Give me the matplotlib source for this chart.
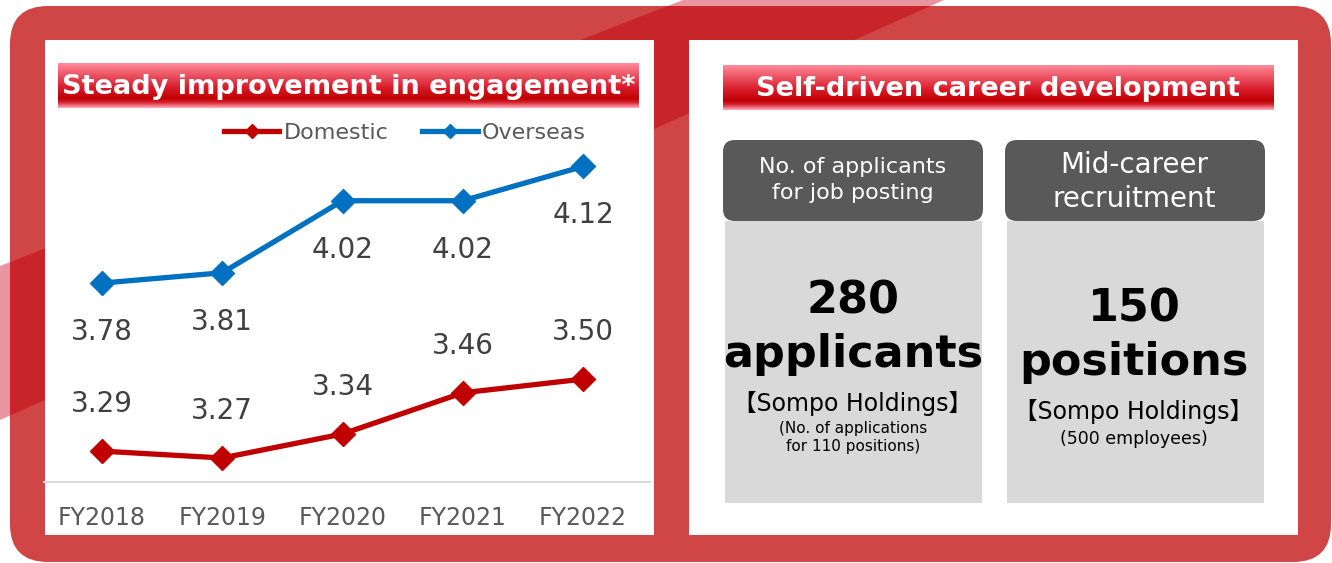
import numpy as np
import matplotlib
matplotlib.use('Agg')
import matplotlib.pyplot as plt
from matplotlib.patches import FancyBboxPatch, Rectangle, Polygon
from matplotlib.colors import LinearSegmentedColormap

# data
years = ['FY2018', 'FY2019', 'FY2020', 'FY2021', 'FY2022']
domestic = [3.29, 3.27, 3.34, 3.46, 3.50]
overseas = [3.78, 3.81, 4.02, 4.02, 4.12]

left_title = 'Steady improvement in engagement*'
right_title = 'Self-driven career development'
box_heads = ['No. of applicants\nfor job posting', 'Mid-career\nrecruitment']
box_nums = ['280', '150']
box_units = ['applicants', 'positions']
box_org = ['【Sompo Holdings】', '【Sompo Holdings】']
box_notes = ['(No. of applications\nfor 110 positions)', '(500 employees)']

W, H = 1332, 563
RED = '#C00000'
BLUE = '#0070C0'
FRAME = '#D04545'
BAND_DARK = '#C8252B'
BAND_PINK = '#E9959F'

fig = plt.figure(figsize=(W / 100, H / 100), dpi=100)
bg = fig.add_axes([0, 0, 1, 1])
bg.set_xlim(0, W)
bg.set_ylim(H, 0)
bg.axis('off')

# diagonal band behind / over the frame
band = [(0, 266), (683, 0), (944, 0), (0, 420)]
bg.add_patch(Polygon(band, closed=True, color=BAND_PINK, lw=0, zorder=1))
frame = FancyBboxPatch((10, 6), 1321, 556, boxstyle='round,pad=0,rounding_size=38',
                       fc=FRAME, ec='none', zorder=2)
bg.add_patch(frame)
dark = Polygon(band, closed=True, color=BAND_DARK, lw=0, zorder=3)
bg.add_patch(dark)
dark.set_clip_path(frame)

# white panels
bg.add_patch(Rectangle((45, 40), 609, 495, fc='white', ec='none', zorder=4))
bg.add_patch(Rectangle((689, 40), 609, 495, fc='white', ec='none', zorder=4))

# title bars with vertical gradient
grad = LinearSegmentedColormap.from_list('tb', [
    (0.0, '#FF8C9C'), (0.2, '#F0606F'), (0.55, '#D81B2B'),
    (0.8, '#C00000'), (0.88, '#D42030'), (1.0, '#FFA8B4')])
g = np.linspace(0, 1, 64).reshape(-1, 1)
for (x0, x1, y0, y1, txt) in [(58, 639, 63, 108, left_title),
                              (723, 1274, 65, 110, right_title)]:
    bg.imshow(g, cmap=grad, extent=(x0, x1, y1, y0), aspect='auto',
              origin='upper', zorder=5, interpolation='bilinear')
    bg.text((x0 + x1) / 2, (y0 + y1) / 2 + 1, txt, color='white', fontsize=19.5,
            fontweight='bold', ha='center', va='center', zorder=6)

# right panel boxes
centers = [853, 1134]
lefts = [723, 1005]
for i in range(2):
    x0 = lefts[i]
    bg.add_patch(Rectangle((x0 + 2, 221), 257, 282, fc='#D9D9D9', ec='none', zorder=5))
    bg.add_patch(FancyBboxPatch((x0, 140), 260, 81, boxstyle='round,pad=0,rounding_size=12',
                                fc='#595959', ec='none', zorder=6))
    cx = centers[i]
    if i == 0:
        bg.text(cx, 180, box_heads[i], color='white', fontsize=16, ha='center',
                va='center', linespacing=1.35, zorder=7)
        bg.text(cx, 301, box_nums[i], fontsize=32, fontweight='bold', ha='center', va='center', zorder=7)
        bg.text(cx, 355, box_units[i], fontsize=32, fontweight='bold', ha='center', va='center', zorder=7)
        bg.text(cx, 404, box_org[i], fontsize=17, ha='center', va='center', zorder=7,
                family=['DejaVu Sans', 'Noto Sans CJK JP'])
        bg.text(cx, 438, box_notes[i], fontsize=11, ha='center', va='center',
                linespacing=1.25, zorder=7)
    else:
        bg.text(cx, 182, box_heads[i], color='white', fontsize=20, ha='center',
                va='center', linespacing=1.25, zorder=7)
        bg.text(cx, 309, box_nums[i], fontsize=32, fontweight='bold', ha='center', va='center', zorder=7)
        bg.text(cx, 362, box_units[i], fontsize=32, fontweight='bold', ha='center', va='center', zorder=7)
        bg.text(cx, 412, box_org[i], fontsize=17, ha='center', va='center', zorder=7,
                family=['DejaVu Sans', 'Noto Sans CJK JP'])
        bg.text(cx, 439, box_notes[i], fontsize=12.5, ha='center', va='center', zorder=7)

# line chart
ax = fig.add_axes([44 / W, 1 - 482 / H, (650 - 44) / W, (482 - 139) / H])
ax.patch.set_alpha(0)
x = np.arange(len(years))
ax.plot(x, domestic, color=RED, lw=3.8, marker='D', ms=12, label='Domestic', zorder=3)
ax.plot(x, overseas, color=BLUE, lw=3.8, marker='D', ms=12, label='Overseas', zorder=3)
for xi, v in zip(x, domestic):
    ax.annotate(f'{v:.2f}', (xi, v), xytext=(0, 47), textcoords='offset pixels',
                ha='center', va='center', fontsize=20, color='#404040')
for xi, v in zip(x, overseas):
    ax.annotate(f'{v:.2f}', (xi, v), xytext=(0, -49), textcoords='offset pixels',
                ha='center', va='center', fontsize=20, color='#404040')

ax.set_xlim(-(102 - 44) / 120.25, 4 + (650 - 583) / 120.25)
ax.set_ylim(3.2, 4.2)
ax.set_xticks(x)
ax.set_xticklabels(years, fontsize=17, color='#595959')
ax.tick_params(axis='x', length=0, pad=17)
ax.set_yticks([])
for s in ['top', 'left', 'right']:
    ax.spines[s].set_visible(False)
ax.spines['bottom'].set_color('#D9D9D9')
ax.spines['bottom'].set_linewidth(1.5)

leg = ax.legend(loc='center', bbox_to_anchor=(405 / W, 1 - 133 / H),
                bbox_transform=fig.transFigure, ncol=2, frameon=False,
                fontsize=16, handlelength=2.5, handletextpad=0.2,
                columnspacing=1.5, markerscale=0.6)
for t in leg.get_texts():
    t.set_color('#595959')

fig.savefig('out.png', dpi=100)
